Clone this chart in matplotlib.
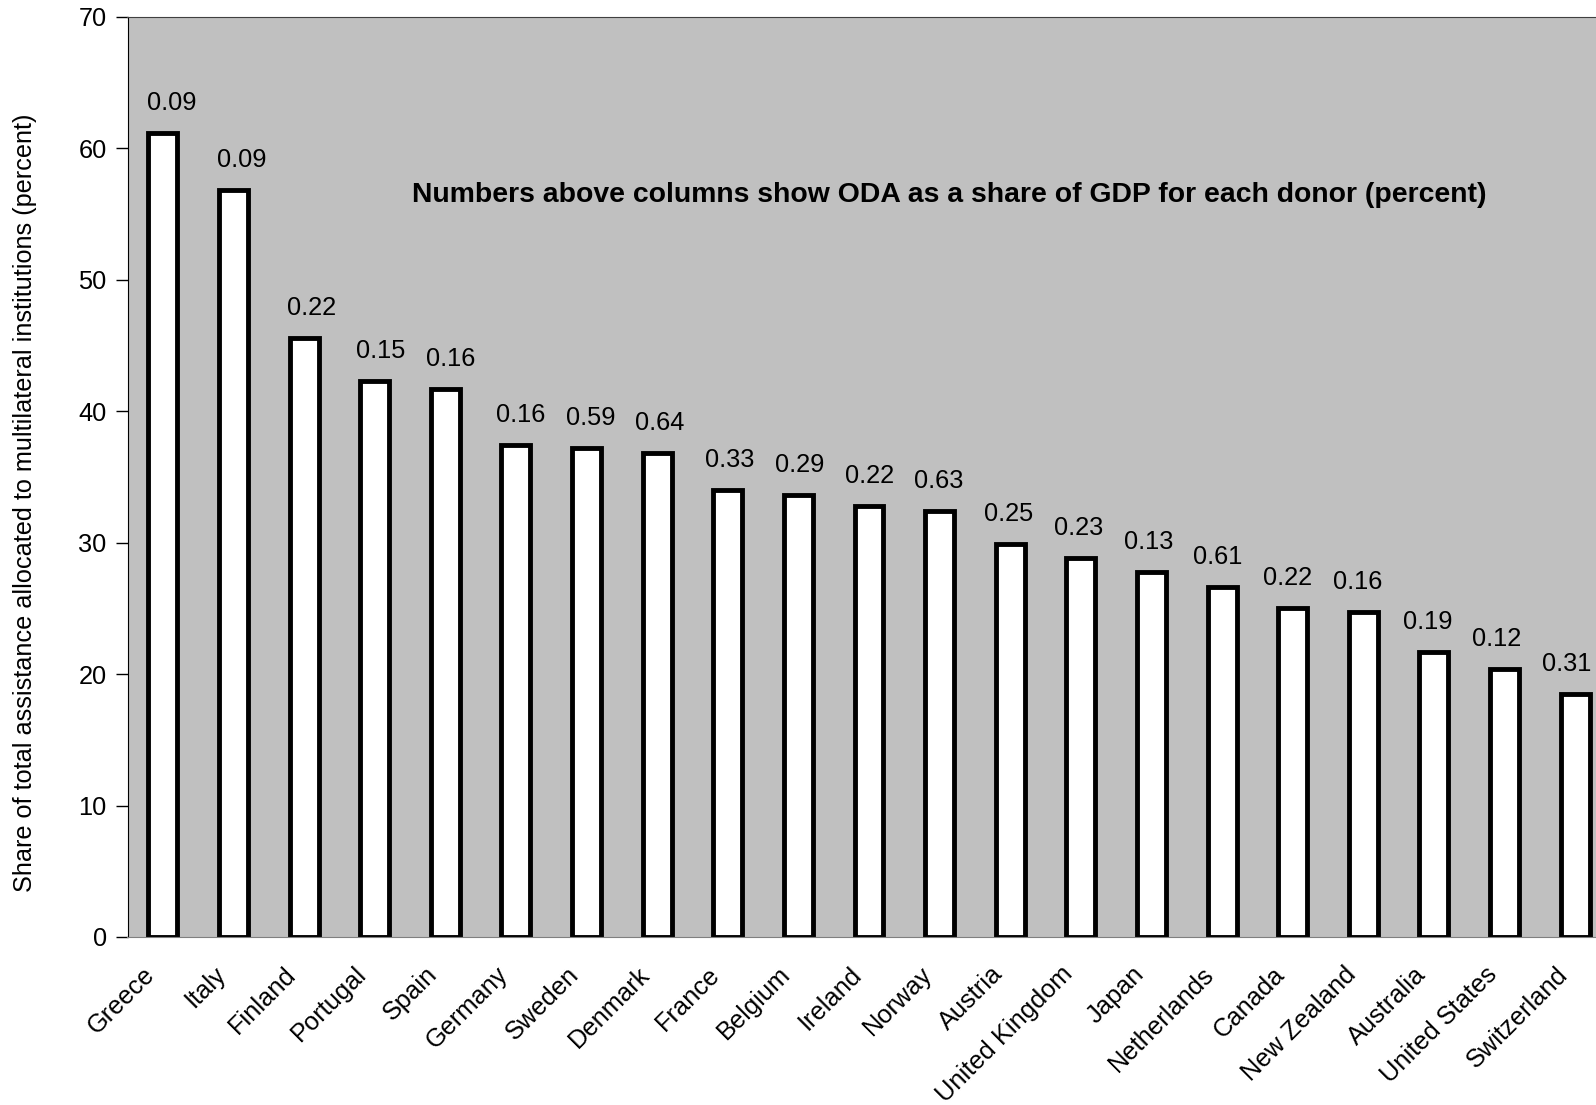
import matplotlib.pyplot as plt
import matplotlib.transforms as mtransforms
import numpy as np

plt.rcParams['font.family'] = ['Liberation Sans', 'DejaVu Sans']

# donors, share to multilateral institutions (%), ODA as share of GDP (%)
countries = ['Greece', 'Italy', 'Finland', 'Portugal', 'Spain', 'Germany', 'Sweden',
             'Denmark', 'France', 'Belgium', 'Ireland', 'Norway', 'Austria',
             'United Kingdom', 'Japan', 'Netherlands', 'Canada', 'New Zealand',
             'Australia', 'United States', 'Switzerland']
multilateral_share = [61.2, 56.8, 45.6, 42.3, 41.7, 37.4, 37.2, 36.8, 34.0, 33.6, 32.8,
                      32.4, 29.9, 28.8, 27.8, 26.6, 25.0, 24.7, 21.7, 20.4, 18.5]
oda_gdp = ['0.09', '0.09', '0.22', '0.15', '0.16', '0.16', '0.59', '0.64', '0.33', '0.29',
           '0.22', '0.63', '0.25', '0.23', '0.13', '0.61', '0.22', '0.16', '0.19', '0.12',
           '0.31']

fig = plt.figure(figsize=(15.96, 11.05), dpi=100)
# axes runs past the right edge of the figure, as in the original
ax = fig.add_axes([127.5 / 1596, 1 - 937 / 1105, 1483 / 1596, 920 / 1105])
ax.set_facecolor('#c0c0c0')

x = np.arange(len(countries))
bars = ax.bar(x, multilateral_share, width=0.41, color='white', edgecolor='black',
              linewidth=3.5)

# the labels drift a little from right to left across the chart, like in the original
n = len(bars)
for i, (b, lab) in enumerate(zip(bars, oda_gdp)):
    dx = 6.5 - 12.5 * i / (n - 1)
    ax.annotate(lab, (b.get_x() + b.get_width() / 2, b.get_height()),
                xytext=(dx, 13), textcoords='offset points', ha='center', va='bottom',
                fontsize=18.3)

ax.set_xlim(-0.5, len(countries) - 0.5)
ax.set_ylim(0, 70)
ax.set_yticks(range(0, 71, 10))
ax.tick_params(axis='y', labelsize=18.3, length=9, width=1, direction='out', pad=6)
ax.set_xticks(x)
ax.set_xticklabels(countries, rotation=45, ha='right', rotation_mode='anchor', fontsize=18.3)
ax.tick_params(axis='x', length=0, pad=18)
shift = mtransforms.ScaledTranslation(-20 / 100, 0, fig.dpi_scale_trans)
for t in ax.get_xticklabels():
    t.set_transform(t.get_transform() + shift)

ax.spines['left'].set_color('black')
ax.spines['top'].set_color('#404040')
ax.spines['bottom'].set_color('#808080')
ax.spines['right'].set_visible(False)

ax.set_ylabel('Share of total assistance allocated to multilateral institutions (percent)',
              fontsize=18.2, labelpad=30)
ax.yaxis.label.set_y(0.472)
ax.text(0.554, 0.806, 'Numbers above columns show ODA as a share of GDP for each donor (percent)',
        transform=ax.transAxes, ha='center', va='center', fontsize=20.4, fontweight='bold')

fig.savefig('out.png', dpi=100)
